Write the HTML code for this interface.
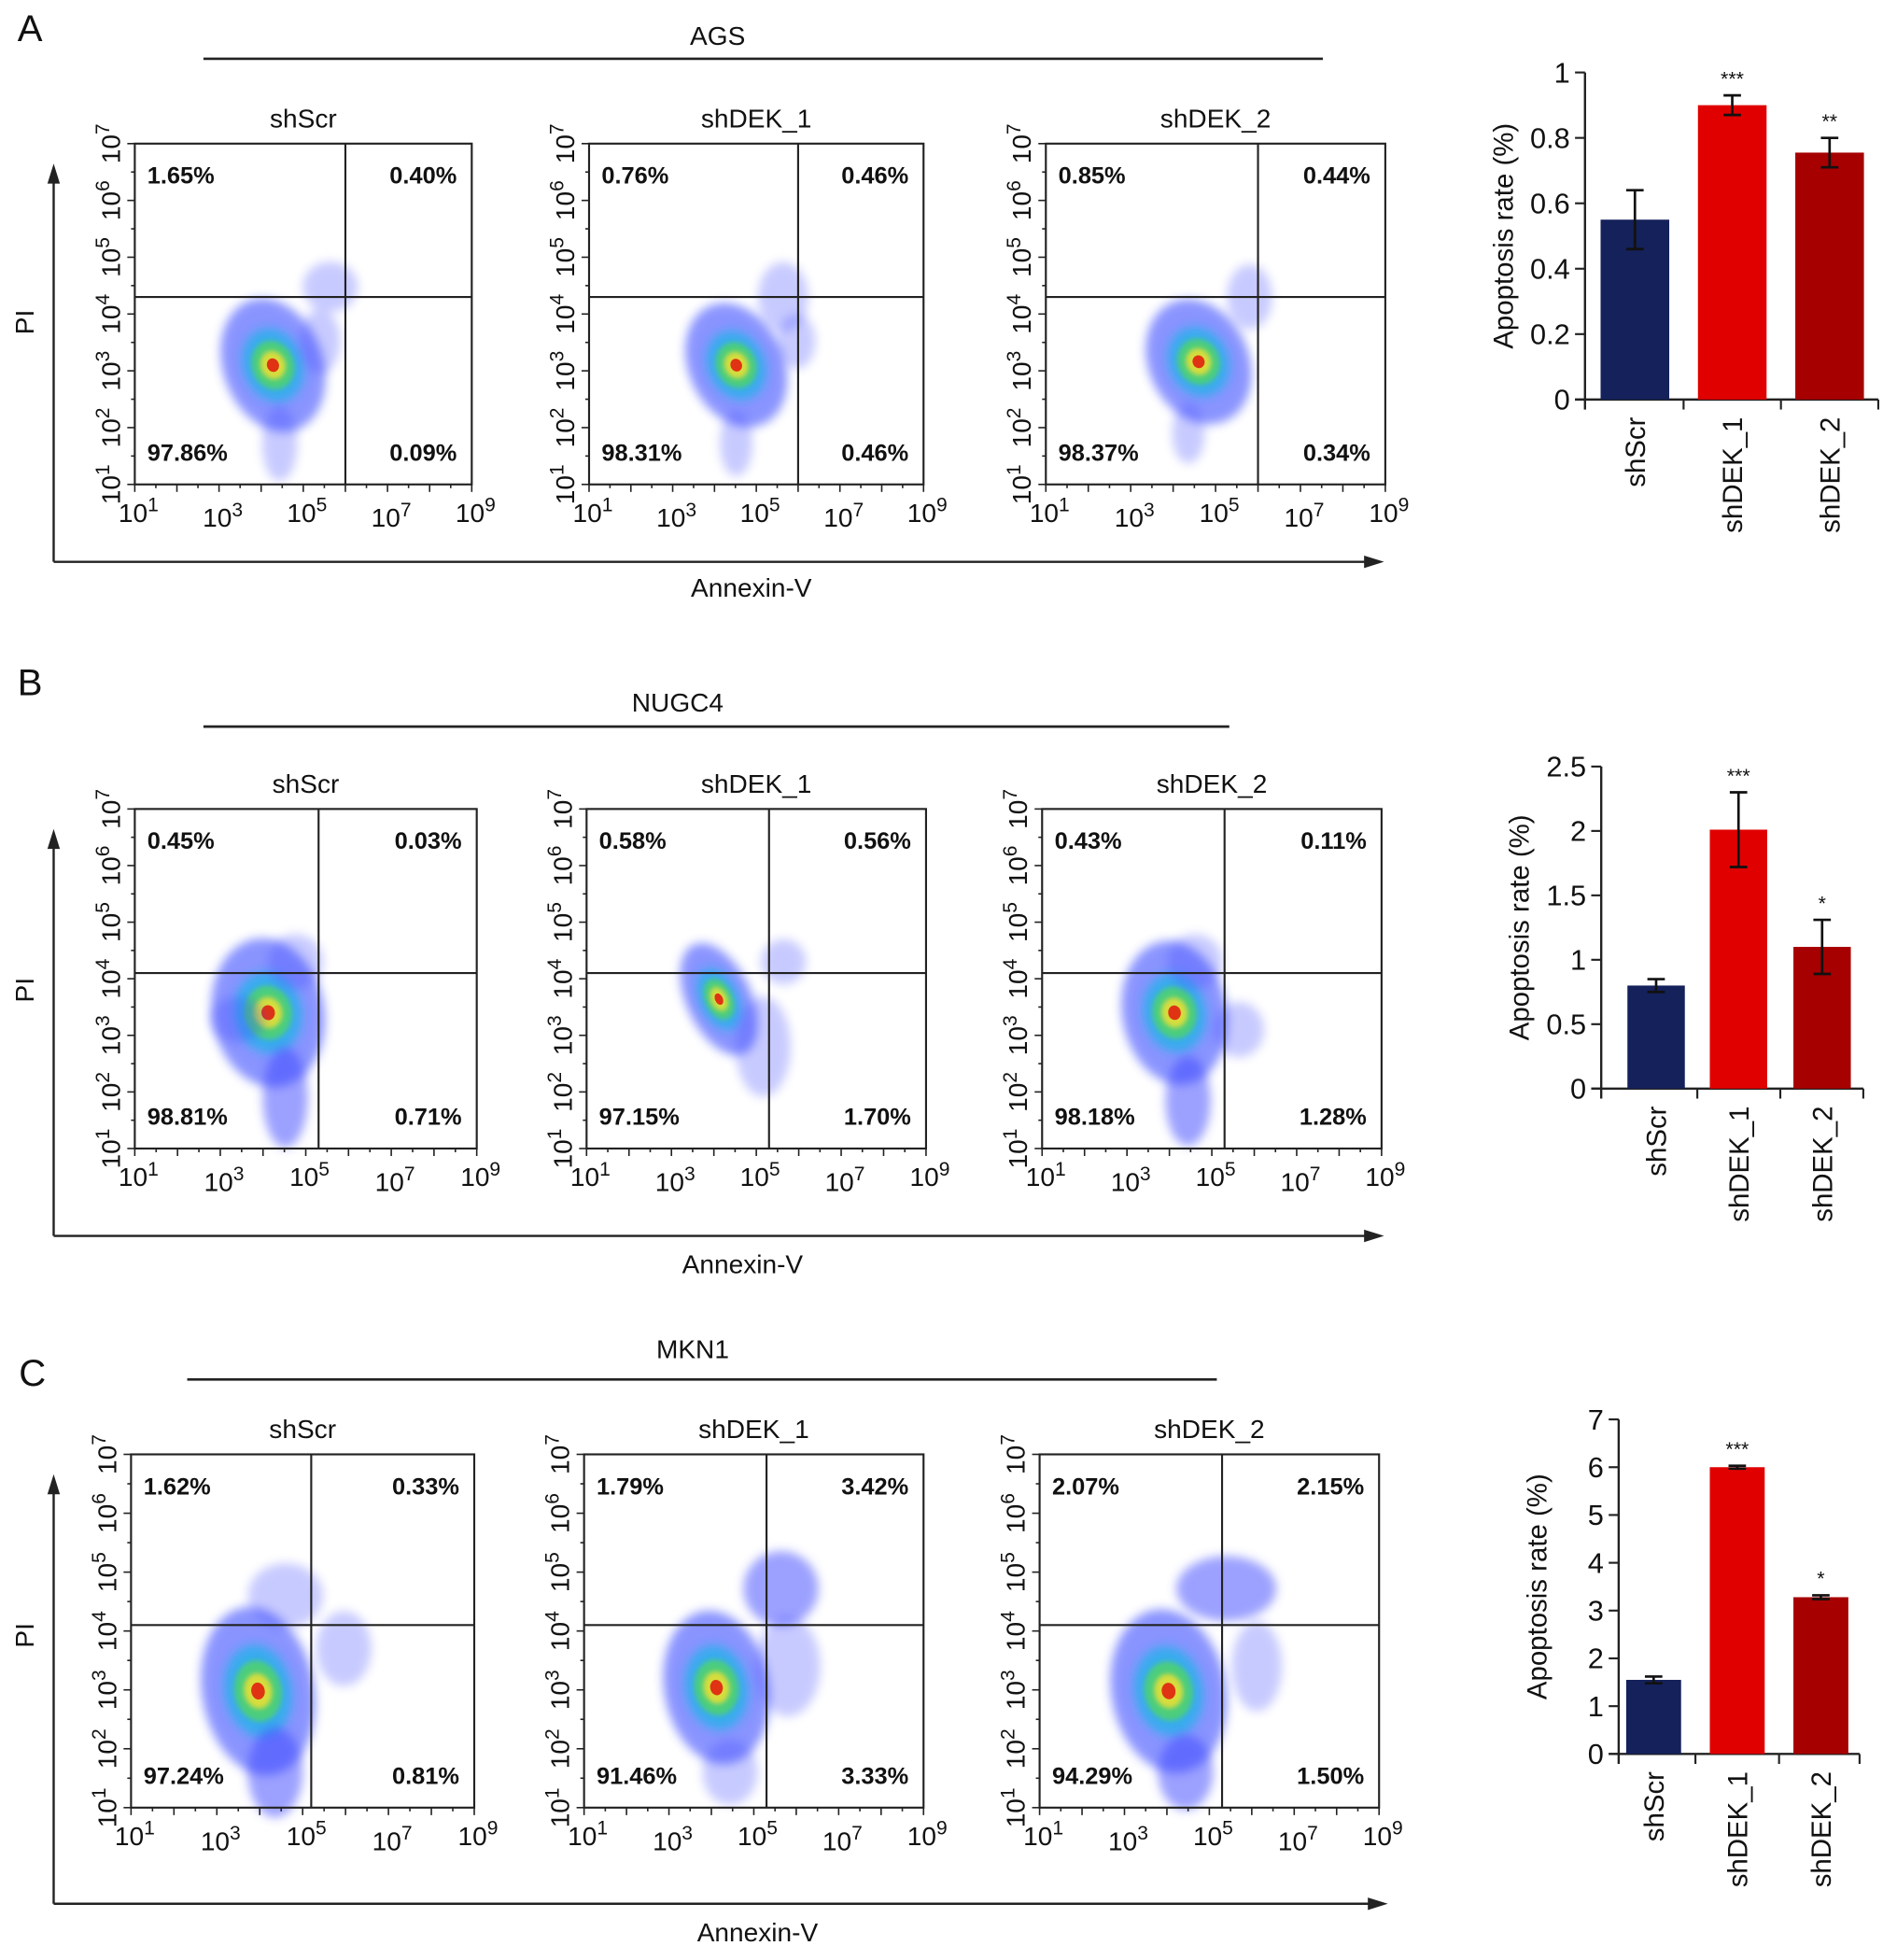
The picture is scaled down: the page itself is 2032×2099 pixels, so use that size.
<!DOCTYPE html>
<html><head><meta charset="utf-8">
<style>
html,body{margin:0;padding:0;background:#fff;}
svg{display:block;font-family:"Liberation Sans",Arial,sans-serif;}
</style></head>
<body>
<svg id="fig" width="2032" height="2099" viewBox="0 0 1520 1570" xmlns="http://www.w3.org/2000/svg">
<defs>
<filter id="blur4" x="-50%" y="-50%" width="200%" height="200%"><feGaussianBlur stdDeviation="4"/></filter>
<filter id="blur2" x="-50%" y="-50%" width="200%" height="200%"><feGaussianBlur stdDeviation="2"/></filter>
</defs>
</svg>
<script>
// ---- bar chart data ----
const barCats = ["shScr","shDEK_1","shDEK_2"];
const agsVals = [0.55, 0.90, 0.755];
const agsErr = [0.09, 0.03, 0.045];
const agsStars = ["", "***", "**"];
const agsTicks = [0, 0.2, 0.4, 0.6, 0.8, 1];
const nugVals = [0.80, 2.01, 1.10];
const nugErr = [0.05, 0.29, 0.21];
const nugStars = ["", "***", "*"];
const nugTicks = [0, 0.5, 1, 1.5, 2, 2.5];
const mknVals = [1.55, 6.00, 3.28];
const mknErr = [0.07, 0.03, 0.04];
const mknStars = ["", "***", "*"];
const mknTicks = [0, 1, 2, 3, 4, 5, 6, 7];
// ---- flow plot quadrant percentages [UL, UR, LL, LR] ----
const agsPct = [["1.65%","0.40%","97.86%","0.09%"],["0.76%","0.46%","98.31%","0.46%"],["0.85%","0.44%","98.37%","0.34%"]];
const nugPct = [["0.45%","0.03%","98.81%","0.71%"],["0.58%","0.56%","97.15%","1.70%"],["0.43%","0.11%","98.18%","1.28%"]];
const mknPct = [["1.62%","0.33%","97.24%","0.81%"],["1.79%","3.42%","91.46%","3.33%"],["2.07%","2.15%","94.29%","1.50%"]];
// quadrant gate positions (log10 units: annexin, PI)
const agsGate = [[6.0,4.3],[6.0,4.3],[6.0,4.3]];
const nugGate = [[5.3,4.1],[5.3,4.1],[5.3,4.1]];
const mknGate = [[5.2,4.1],[5.3,4.1],[5.3,4.1]];
const xTickExp = [1,3,5,7,9];
const yTickExp = [1,2,3,4,5,6,7];

const svg = document.getElementById('fig');
const NS = "http://www.w3.org/2000/svg";
function el(tag, attrs, parent){
  const e = document.createElementNS(NS, tag);
  for(const k in attrs) e.setAttribute(k, attrs[k]);
  (parent||svg).appendChild(e);
  return e;
}
function txt(str, x, y, size, opts, parent){
  const t = el('text', Object.assign({x:x, y:y, 'font-size':size, fill:'#111'}, opts||{}), parent);
  t.textContent = str;
  return t;
}
function pow(x, y, exp, size, rot, parent){
  const g = el('g', {transform: rot ? `translate(${x},${y}) rotate(-90)` : `translate(${x},${y})`}, parent);
  const t = el('text', {x:0, y:0, 'font-size':size, fill:'#111', 'text-anchor':'middle'}, g);
  const a = document.createElementNS(NS,'tspan'); a.textContent='10'; t.appendChild(a);
  const b = document.createElementNS(NS,'tspan'); b.setAttribute('dy', -size*0.4); b.setAttribute('font-size', size*0.75); b.textContent = String(exp); t.appendChild(b);
  return g;
}

// ---- flow plot ----
function flow(box, title, pct, gate, blobs, name){
  const g = el('g', {});
  
  
  const [L,T,R,B] = box;
  const xs = v => L + (v-1)/8*(R-L);
  const ys = v => B - (v-1)/6*(B-T);
  blobs.forEach(bl => {
    const [fx, fy, rx, ry, rot, kind] = bl;
    const cx = L + fx*(R-L), cy = T + fy*(B-T);
    const bg = el('g', {transform:`translate(${cx},${cy}) rotate(${rot})`}, g);
    if(kind==='core'){
      el('ellipse',{cx:0,cy:0,rx:rx,ry:ry,fill:'#2a3cff',opacity:0.55,filter:'url(#blur4)'},bg);
      el('ellipse',{cx:0,cy:0,rx:rx*0.6,ry:ry*0.55,fill:'#1fb4e8',opacity:0.75,filter:'url(#blur4)'},bg);
      el('ellipse',{cx:0,cy:0,rx:rx*0.42,ry:ry*0.36,fill:'#4fd36a',opacity:0.85,filter:'url(#blur2)'},bg);
      el('ellipse',{cx:0,cy:0,rx:rx*0.25,ry:ry*0.21,fill:'#f0e030',opacity:0.85,filter:'url(#blur2)'},bg);
      el('ellipse',{cx:0,cy:0,rx:rx*0.12,ry:ry*0.1,fill:'#e02010',opacity:0.9},bg);
    } else {
      el('ellipse',{cx:0,cy:0,rx:rx,ry:ry,fill:'#3a44ff',opacity:kind==='dense'?0.5:0.28,filter:'url(#blur4)'},bg);
    }
  });
  const bx = el('rect',{x:L,y:T,width:R-L,height:B-T,fill:'none',stroke:'#222','stroke-width':1.6},g);
   
  el('line',{x1:xs(gate[0]),x2:xs(gate[0]),y1:T,y2:B,stroke:'#222','stroke-width':1.6},g);
  el('line',{x1:L,x2:R,y1:ys(gate[1]),y2:ys(gate[1]),stroke:'#222','stroke-width':1.6},g);
  for(let v=1; v<=9; v+=0.5){ const x=xs(v); el('line',{x1:x,x2:x,y1:B,y2:B+(v%1===0?6:3),stroke:'#222','stroke-width':1.2},g); }
  for(let v=1; v<=7; v+=0.5){ const y=ys(v); el('line',{x1:L,x2:L-(v%1===0?6:3),y1:y,y2:y,stroke:'#222','stroke-width':1.2},g); }
  xTickExp.forEach((e,i)=>{ pow(xs(e)+3, B+30+(i%2)*4, e, 21, false, g); });
  yTickExp.forEach(e=>{ pow(L-12, ys(e), e, 21, true, g); });
  const tt = txt(title, (L+R)/2, T-13, 21, {'text-anchor':'middle'}, g);
   
  const o = {'font-weight':'bold'};
  txt(pct[0], L+10, T+32, 19, o, g);
  txt(pct[1], R-12, T+32, 19, Object.assign({'text-anchor':'end'},o), g);
  txt(pct[2], L+10, B-19, 19, o, g);
  txt(pct[3], R-12, B-19, 19, Object.assign({'text-anchor':'end'},o), g);
}

// ---- bar chart ----
function bars(cfg, vals, errs, stars, ticks, name){
  const g = el('g', {});
  
  
  const {ax, y0, y1, max, xend, bw, centers} = cfg;
  const ys = v => y0 - v/max*(y0-y1);
  el('line',{x1:ax,x2:ax,y1:y1,y2:y0+8,stroke:'#222','stroke-width':1.8},g);
  el('line',{x1:ax-8,x2:xend,y1:y0,y2:y0,stroke:'#222','stroke-width':1.8},g);
  ticks.forEach(t=>{
    el('line',{x1:ax-8,x2:ax,y1:ys(t),y2:ys(t),stroke:'#222','stroke-width':1.6},g);
    txt(String(t), ax-12, ys(t)+8, 23, {'text-anchor':'end'}, g);
  });
  const cols = ['#14215a','#e00000','#a60000'];
  for(let i=0;i<centers.length;i++){
    const sep = i<centers.length-1 ? (centers[i]+centers[i+1])/2 : xend;
    el('line',{x1:sep,x2:sep,y1:y0,y2:y0+8,stroke:'#222','stroke-width':1.6},g);
  }
  vals.forEach((v,i)=>{
    const c = centers[i];
    const r = el('rect',{x:c-bw/2,y:ys(v),width:bw,height:y0-ys(v),fill:cols[i]},g);
    
    
    const e = errs[i];
    el('line',{x1:c,x2:c,y1:ys(v+e),y2:ys(v-e),stroke:'#111','stroke-width':2},g);
    el('line',{x1:c-7,x2:c+7,y1:ys(v+e),y2:ys(v+e),stroke:'#111','stroke-width':2},g);
    el('line',{x1:c-7,x2:c+7,y1:ys(v-e),y2:ys(v-e),stroke:'#111','stroke-width':2},g);
    if(stars[i]) txt(stars[i], c, ys(v+e)-8, 16, {'text-anchor':'middle'}, g);
    const lg = el('g',{transform:`translate(${c+8},${y0+14}) rotate(-90)`},g);
    const lt = txt(barCats[i], 0, 0, 22, {'text-anchor':'end'}, lg);
     
  });
  const yg = el('g',{transform:`translate(${ax-58},${(y0+y1)/2}) rotate(-90)`},g);
  const yt = txt('Apoptosis rate (%)', 0, 0, 22, {'text-anchor':'middle'}, yg);
   
}

function bigAxes(x, yTop, yBot, xEnd, piY, annX, annY, name){
  const g = el('g',{});
  
  
  el('line',{x1:x,x2:x,y1:yBot,y2:yTop+10,stroke:'#222','stroke-width':1.8},g);
  el('polygon',{points:`${x-5},${yTop+12} ${x+5},${yTop+12} ${x},${yTop-4}`,fill:'#222'},g);
  el('line',{x1:x,x2:xEnd-10,y1:yBot,y2:yBot,stroke:'#222','stroke-width':1.8},g);
  el('polygon',{points:`${xEnd-12},${yBot-5} ${xEnd-12},${yBot+5} ${xEnd+4},${yBot}`,fill:'#222'},g);
  const pg = el('g',{transform:`translate(${x-16},${piY}) rotate(-90)`},g);
  txt('PI',0,0,21,{'text-anchor':'middle'},pg);
  txt('Annexin-V',annX,annY,21,{'text-anchor':'middle'},g);
}
function header(letter, lx, ly, cell, cx, cy, x1, x2, lineY){
  const l = txt(letter, lx, ly, 30, {'text-anchor':'middle'});
   
  const c = txt(cell, cx, cy, 21, {'text-anchor':'middle'});
   
  el('line',{x1:x1,x2:x2,y1:lineY,y2:lineY,stroke:'#222','stroke-width':2});
}

// ---- Panel A ----
header('A', 24, 33, 'AGS', 575, 36, 163, 1060, 47);
flow([108,115,378,388],'shScr',agsPct[0],agsGate[0],[
  [0.41,0.65,40,55,-20,'core'],[0.43,0.88,14,30,0,'sparse'],[0.58,0.42,22,20,0,'sparse'],[0.55,0.58,16,26,0,'sparse']],'flow-ags-shscr');
flow([472,115,740,388],'shDEK_1',agsPct[1],agsGate[1],[
  [0.44,0.65,38,52,-25,'core'],[0.58,0.45,20,28,0,'sparse'],[0.44,0.88,13,26,0,'sparse'],[0.62,0.58,15,22,0,'sparse']],'flow-ags-shdek1');
flow([838,115,1110,388],'shDEK_2',agsPct[2],agsGate[2],[
  [0.45,0.64,40,52,-25,'core'],[0.60,0.45,18,26,0,'sparse'],[0.42,0.85,13,24,0,'sparse']],'flow-ags-shdek2');
bigAxes(43,135,450,1105,258,602,478,'outer-axes-a');
bars({ax:1270,y0:320,y1:58,max:1,xend:1505,bw:55,centers:[1310,1388,1466]}, agsVals, agsErr, agsStars, agsTicks, 'bar-chart-ags');

// ---- Panel B ----
header('B', 24, 557, 'NUGC4', 543, 570, 163, 985, 582);
flow([108,648,382,920],'shScr',nugPct[0],nugGate[0],[
  [0.39,0.6,45,60,-10,'core'],[0.44,0.85,18,40,0,'dense'],[0.47,0.45,22,22,0,'sparse'],[0.3,0.62,22,18,0,'sparse']],'flow-nugc4-shscr');
flow([470,648,742,920],'shDEK_1',nugPct[1],nugGate[1],[
  [0.39,0.56,26,48,-25,'core'],[0.52,0.70,22,40,0,'sparse'],[0.58,0.45,18,18,0,'sparse']],'flow-nugc4-shdek1');
flow([835,648,1107,920],'shDEK_2',nugPct[2],nugGate[2],[
  [0.39,0.6,42,58,-10,'core'],[0.43,0.86,18,36,0,'dense'],[0.45,0.45,22,22,0,'sparse'],[0.58,0.65,20,22,0,'sparse']],'flow-nugc4-shdek2');
bigAxes(43,668,990,1105,793,595,1020,'outer-axes-b');
bars({ax:1283,y0:872,y1:614,max:2.5,xend:1493,bw:46,centers:[1327,1393,1460]}, nugVals, nugErr, nugStars, nugTicks, 'bar-chart-nugc4');

// ---- Panel C ----
header('C', 26, 1110, 'MKN1', 555, 1088, 150, 975, 1105);
flow([105,1165,380,1448],'shScr',mknPct[0],mknGate[0],[
  [0.37,0.67,45,68,-10,'core'],[0.42,0.90,22,36,0,'dense'],[0.45,0.40,30,26,0,'sparse'],[0.62,0.55,22,30,0,'sparse']],'flow-mkn1-shscr');
flow([468,1165,740,1448],'shDEK_1',mknPct[1],mknGate[1],[
  [0.39,0.66,42,62,-10,'core'],[0.58,0.38,30,30,0,'dense'],[0.6,0.60,26,40,0,'sparse'],[0.43,0.90,22,26,0,'sparse']],'flow-mkn1-shdek1');
flow([833,1165,1105,1448],'shDEK_2',mknPct[2],mknGate[2],[
  [0.38,0.67,46,66,-10,'core'],[0.55,0.38,40,26,0,'dense'],[0.43,0.90,22,30,0,'dense'],[0.64,0.60,20,36,0,'sparse']],'flow-mkn1-shdek2');
bigAxes(43,1185,1525,1108,1310,607,1555,'outer-axes-c');
bars({ax:1297,y0:1405,y1:1137,max:7,xend:1490,bw:44,centers:[1325,1392,1459]}, mknVals, mknErr, mknStars, mknTicks, 'bar-chart-mkn1');
</script>
</body></html>
